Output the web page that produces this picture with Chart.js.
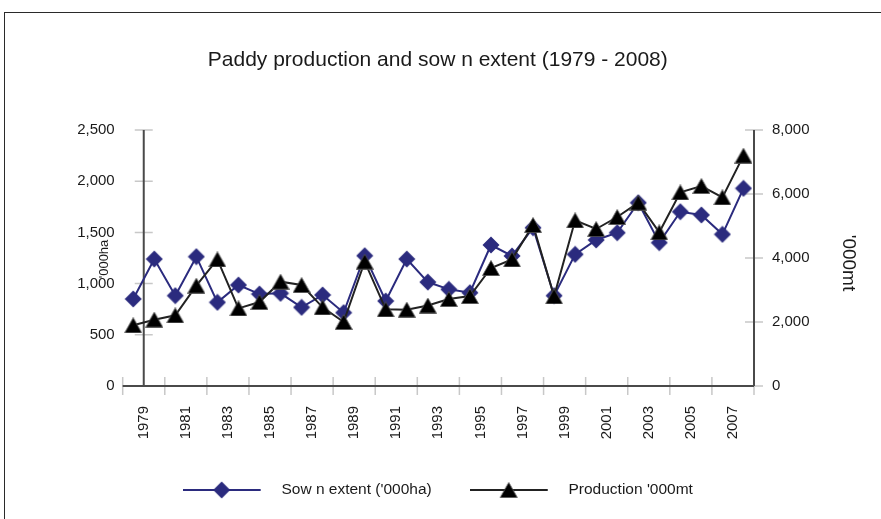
<!DOCTYPE html>
<html><head><meta charset="utf-8">
<script src="https://cdn.jsdelivr.net/npm/chart.js@4.4.1/dist/chart.umd.min.js"></script>
<style>
html,body{margin:0;padding:0;background:#fff;overflow:hidden}
#wrap{position:relative;width:881px;height:519px;overflow:hidden;background:#fff}
#frame{position:absolute;left:4px;top:12px;width:1000px;height:1000px;border:1.5px solid #2a2a2a;box-sizing:border-box}
canvas{position:absolute;left:0;top:0}
</style></head><body>
<div id="wrap"><div id="frame"></div><canvas id="c" width="881" height="519"></canvas></div>
<script>
const years = ['1979','1980','1981','1982','1983','1984','1985','1986','1987','1988','1989','1990','1991','1992','1993','1994','1995','1996','1997','1998','1999','2000','2001','2002','2003','2004','2005','2006','2007','2008'];
const sownExtent = [850,1240,882,1263,817,986,898,905,768,889,716,1272,830,1240,1015,944,911,1377,1270,1546,882,1286,1426,1497,1790,1400,1702,1670,1481,1930];
const production = [1897,2073,2208,3135,3958,2427,2625,3260,3156,2458,2000,3885,2396,2385,2515,2719,2812,3687,3958,5031,2802,5177,4906,5281,5729,4802,6052,6250,5896,7198];
const leftTicks = [0,500,1000,1500,2000,2500];
const rightTicks = [0,2000,4000,6000,8000];
const seriesNames = ["Sow n extent ('000ha)", "Production '000mt"];
const titleText = 'Paddy production and sow n extent (1979 - 2008)';
const leftTitle = "'000ha";
const rightTitle = "'000mt";

const NAVY = '#2b2b7e';
const BLACK = '#111111';
const TEXT = '#1a1a1a';
const FONT = '"Liberation Sans", Arial, sans-serif';

function makeDiamond(){
  const c = document.createElement('canvas'); c.width = 18; c.height = 18;
  const g = c.getContext('2d');
  g.fillStyle = NAVY; g.beginPath();
  g.moveTo(9,0.5); g.lineTo(17.5,9); g.lineTo(9,17.5); g.lineTo(0.5,9); g.closePath(); g.fill();
  return c;
}
function makeTriangle(){
  const c = document.createElement('canvas'); c.width = 18; c.height = 16;
  const g = c.getContext('2d');
  g.fillStyle = '#000'; g.strokeStyle = '#555'; g.lineWidth = 0.8; g.beginPath();
  g.moveTo(9,0.5); g.lineTo(17.5,15.5); g.lineTo(0.5,15.5); g.closePath(); g.fill(); g.stroke();
  return c;
}
function makeLegendImg(marker, color){
  const c = document.createElement('canvas'); c.width = 91; c.height = 20;
  const g = c.getContext('2d');
  g.strokeStyle = color; g.lineWidth = 2;
  g.beginPath(); g.moveTo(0,10); g.lineTo(78,10); g.stroke();
  g.drawImage(marker, 39 - marker.width/2, 10 - marker.height/2);
  return c;
}
const diamondImg = makeDiamond();
const triangleImg = makeTriangle();
const legendImgs = [makeLegendImg(diamondImg, NAVY), makeLegendImg(triangleImg, '#222')];

const axisDecor = {
  id: 'axisDecor',
  beforeDatasetsDraw(chart){
    const {ctx, chartArea: a, scales} = chart;
    const x = scales.x, y = scales.y, y1 = scales.y1;
    const axisX = x.getPixelForValue(0.5);
    ctx.save();
    ctx.lineWidth = 1.5;
    ctx.strokeStyle = '#c8c8c8';
    ctx.beginPath();
    y.ticks.forEach(t => { const py = y.getPixelForValue(t.value); ctx.moveTo(axisX - 9, py); ctx.lineTo(axisX + 9, py); });
    y1.ticks.forEach(t => { const py = y1.getPixelForValue(t.value); ctx.moveTo(a.right - 9, py); ctx.lineTo(a.right + 9, py); });
    for (let k = 0; k <= years.length; k += 2) {
      const px = x.getPixelForValue(k - 0.5);
      ctx.moveTo(px, a.bottom - 9); ctx.lineTo(px, a.bottom + 9);
    }
    ctx.stroke();
    ctx.strokeStyle = '#4a4a4a'; ctx.lineWidth = 2;
    ctx.beginPath();
    ctx.moveTo(a.left, a.bottom); ctx.lineTo(a.right, a.bottom);
    ctx.moveTo(axisX, a.top); ctx.lineTo(axisX, a.bottom);
    ctx.moveTo(a.right, a.top); ctx.lineTo(a.right, a.bottom);
    ctx.stroke();
    ctx.restore();
  },
  afterDraw(chart){
    const {ctx, chartArea: a} = chart;
    const cy = (a.top + a.bottom) / 2;
    ctx.save();
    ctx.fillStyle = TEXT; ctx.textAlign = 'center'; ctx.textBaseline = 'middle';
    ctx.font = '13px ' + FONT;
    ctx.translate(a.left - 18, cy + 1); ctx.rotate(-Math.PI / 2); ctx.fillText(leftTitle, 0, 0);
    ctx.restore();
    ctx.save();
    ctx.fillStyle = TEXT; ctx.textAlign = 'center'; ctx.textBaseline = 'middle';
    ctx.font = '19px ' + FONT;
    ctx.translate(a.right + 94, cy + 5); ctx.rotate(Math.PI / 2); ctx.fillText(rightTitle, 0, 0);
    ctx.restore();
  }
};

Chart.defaults.font.family = FONT;
Chart.defaults.color = TEXT;

new Chart(document.getElementById('c'), {
  type: 'line',
  data: {
    labels: years,
    datasets: [
      { label: seriesNames[0], data: sownExtent, yAxisID: 'y', order: 1,
        borderColor: NAVY, backgroundColor: NAVY, borderWidth: 2, tension: 0,
        pointStyle: diamondImg, pointRadius: 9, pointHoverRadius: 9 },
      { label: seriesNames[1], data: production, yAxisID: 'y1', order: 0,
        borderColor: '#222', backgroundColor: BLACK, borderWidth: 2, tension: 0,
        pointStyle: triangleImg, pointRadius: 9, pointHoverRadius: 9 }
    ]
  },
  options: {
    responsive: false,
    animation: false,
    events: [],
    layout: { padding: { top: 0, left: 0, right: 5.4, bottom: 11.25 } },
    plugins: {
      tooltip: { enabled: false },
      title: { display: true, text: titleText, color: TEXT,
        font: { size: 21, weight: 'normal', family: FONT }, padding: { top: 47.4, bottom: 57.4 } },
      legend: {
        position: 'bottom',
        labels: {
          usePointStyle: true, pointStyleWidth: 91, padding: 38, color: TEXT,
          font: { size: 15.5, family: FONT },
          sort: (a, b) => a.datasetIndex - b.datasetIndex,
          generateLabels(chart){
            const items = Chart.defaults.plugins.legend.labels.generateLabels(chart);
            items.forEach(it => { it.pointStyle = legendImgs[it.datasetIndex]; });
            return items;
          }
        }
      }
    },
    scales: {
      x: {
        type: 'category', offset: true,
        grid: { display: false, drawTicks: false }, border: { display: false },
        ticks: { autoSkip: false, minRotation: 90, maxRotation: 90, padding: 20, labelOffset: 10.5,
          font: { size: 15 }, color: TEXT,
          callback: (v, i) => (i % 2 === 0 ? years[i] : '') },
        afterFit: s => { s.height = 58.25; }
      },
      y: {
        type: 'linear', position: 'left', min: 0, max: 2500,
        afterBuildTicks: s => { s.ticks = leftTicks.map(v => ({ value: v })); },
        grid: { display: false, drawTicks: false }, border: { display: false },
        ticks: { padding: 8, font: { size: 15 }, color: TEXT, callback: v => Number(v).toLocaleString('en-US') },
        afterFit: s => { s.width = 122.7; }
      },
      y1: {
        type: 'linear', position: 'right', min: 0, max: 8000,
        afterBuildTicks: s => { s.ticks = rightTicks.map(v => ({ value: v })); },
        grid: { display: false, drawTicks: false }, border: { display: false },
        ticks: { padding: 18, font: { size: 15 }, color: TEXT, callback: v => Number(v).toLocaleString('en-US') },
        afterFit: s => { s.width = 121.6; }
      }
    }
  },
  plugins: [axisDecor]
});
</script>
</body></html>
